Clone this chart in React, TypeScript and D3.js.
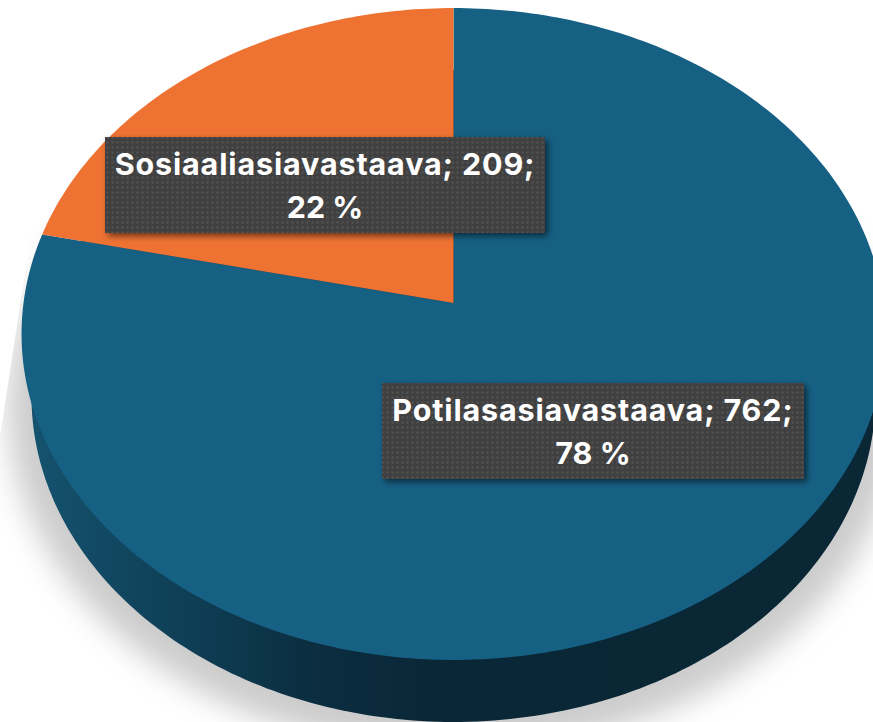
import React from "react";
import * as d3 from "d3";

const categories = ["Potilasasiavastaava", "Sosiaaliasiavastaava"];
const counts = [762, 209];
const percents = [78, 22];
const colors = ["#166084", "#ee7333"];

const W = 873;
const H = 722;

// the pie lies tilted, so the circle goes through a perspective projection
const apex = { x: 453.5, y: 303 };
const persp = -0.0951;
const scaleX = 430;
const scaleY = 323;
const wallDepth = 62;
const wallShrink = 0.977;

function project(angle: number, r = 1, shrink = 1, drop = 0): [number, number] {
  const X = Math.sin(angle) * r;
  const Y = -Math.cos(angle) * r;
  const w = 1 + persp * Y;
  return [
    apex.x + (scaleX * shrink * X) / w,
    apex.y + drop + (scaleY * Y) / w,
  ];
}

const line = d3.line();
const pieGen = d3.pie<number>().sort(null).startAngle(0).endAngle(2 * Math.PI);
const slices = pieGen(counts);

function slicePath(start: number, end: number) {
  const n = Math.max(2, Math.ceil((end - start) * 60));
  const angles = d3.range(n + 1).map((i) => start + ((end - start) * i) / n);
  return line([[apex.x, apex.y], ...angles.map((a) => project(a))]) + "Z";
}

const ringAngles = d3.range(361).map((d) => (d * Math.PI) / 180);
const wallPath =
  line(ringAngles.map((a) => project(a, 1, wallShrink, wallDepth))) + "Z";
const shadowPath =
  line(ringAngles.map((a) => project(a, 1.055, wallShrink, wallDepth + 8))) + "Z";

const labelBoxes = [
  { x: 382, y: 383, w: 422, h: 96 },
  { x: 105, y: 137, w: 440, h: 96 },
];

export default function App() {
  return (
    <svg
      width={W}
      height={H}
      viewBox={`0 0 ${W} ${H}`}
      style={{ position: "absolute", left: 0, top: 0, background: "#fff" }}
    >
      <defs>
        <filter id="pieShadow" x="-20%" y="-20%" width="140%" height="140%">
          <feGaussianBlur stdDeviation="15" />
        </filter>
        <filter id="boxShadow" x="-10%" y="-20%" width="120%" height="140%">
          <feDropShadow dx="3" dy="3" stdDeviation="3" floodColor="#000" floodOpacity="0.55" />
        </filter>
        <clipPath id="shadowClip">
          <polygon points={`0,436 34,215 ${W},215 ${W},${H} 0,${H}`} />
        </clipPath>
        <linearGradient id="wallFill" gradientUnits="userSpaceOnUse" x1="30" x2={W} y1="0" y2="0">
          <stop offset="0" stopColor="#15536f" />
          <stop offset="0.1" stopColor="#114760" />
          <stop offset="0.2" stopColor="#0e3d54" />
          <stop offset="0.33" stopColor="#0b2e40" />
          <stop offset="0.47" stopColor="#0a2737" />
          <stop offset="1" stopColor="#0a2735" />
        </linearGradient>
        <pattern id="dots" width="5" height="5" patternUnits="userSpaceOnUse">
          <rect width="5" height="5" fill="#3f3f3f" />
          <rect x="1.5" y="1.5" width="2" height="2" fill="#565656" />
        </pattern>
      </defs>

      <g clipPath="url(#shadowClip)">
        <path d={shadowPath} fill="#000" fillOpacity={0.2} filter="url(#pieShadow)" />
      </g>

      <path d={wallPath} fill="url(#wallFill)" />

      {slices.map((s, i) => (
        <path key={categories[i]} d={slicePath(s.startAngle, s.endAngle)} fill={colors[i]} />
      ))}

      {categories.map((c, i) => {
        const b = labelBoxes[i];
        const cx = b.x + b.w / 2;
        return (
          <g key={c}>
            <rect x={b.x} y={b.y} width={b.w} height={b.h} fill="url(#dots)" filter="url(#boxShadow)" />
            <text
              textAnchor="middle"
              fill="#fff"
              fontFamily="Inter, 'Noto Sans', sans-serif"
              fontWeight={700}
              fontSize={30.5}
            >
              <tspan x={cx} y={b.y + 38} letterSpacing={0.85}>{`${c}; ${counts[i]};`}</tspan>
              <tspan x={cx} y={b.y + 81}>{`${percents[i]} %`}</tspan>
            </text>
          </g>
        );
      })}
    </svg>
  );
}
